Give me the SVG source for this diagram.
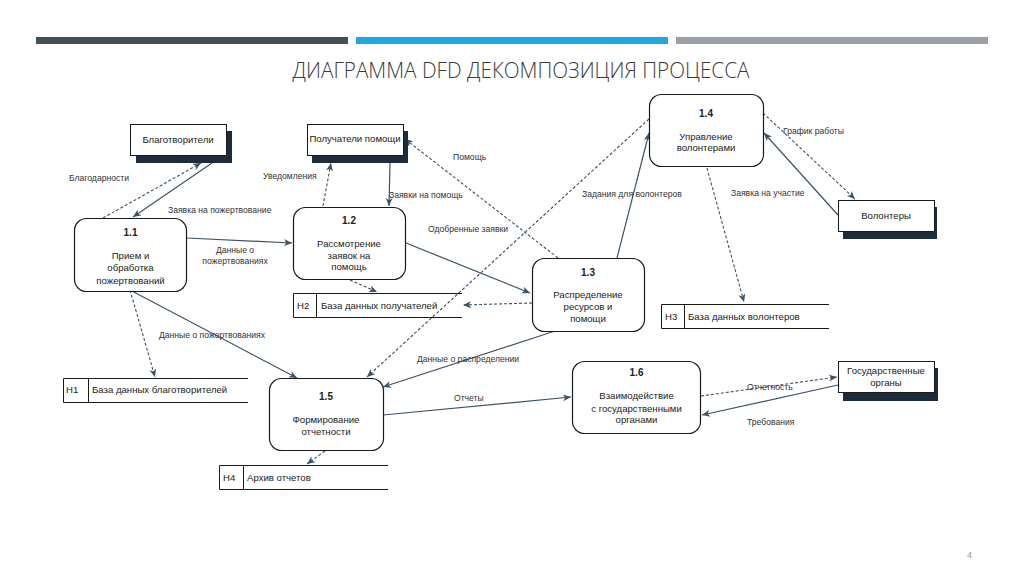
<svg xmlns="http://www.w3.org/2000/svg" width="1024" height="574" viewBox="0 0 1024 574">
<style>
.t{font-family:"Liberation Sans",Arial,sans-serif;fill:#222}
.lbl{font-family:"Liberation Sans",Arial,sans-serif;font-size:8.6px;fill:#333}
.pn{font-size:9.6px;text-anchor:middle}
.pid{font-size:10px;font-weight:bold;text-anchor:middle}
.ent{font-size:9.6px;text-anchor:middle}
.st{font-size:9.6px}
.box{fill:#fff;stroke:#1a1a1a;stroke-width:1}
.sh{fill:#1d2b3a}
.proc{fill:#fff;stroke:#1a1a1a;stroke-width:1.2}
.sl{stroke:#1a1a1a;stroke-width:1;fill:none}
.s{stroke:#3d5266;stroke-width:1.2;fill:none;marker-end:url(#a)}
.d{stroke:#3d5266;stroke-width:1.1;fill:none;stroke-dasharray:3 2;marker-end:url(#a)}
</style>
<defs>
<marker id="a" markerUnits="userSpaceOnUse" markerWidth="10" markerHeight="8" refX="8" refY="3.5" orient="auto">
<path d="M0,0 L8,3.5 L0,7 L2.2,3.5 z" fill="#3d5266"/>
</marker>
</defs>
<rect width="1024" height="574" fill="#fff"/>
<g id="header">
<rect x="36" y="37" width="312" height="7" fill="#434f57"/>
<rect x="356" y="37" width="312" height="7" fill="#1ea8df"/>
<rect x="676" y="37" width="312" height="7" fill="#9aa0a6"/>
<text x="521" y="78" text-anchor="middle" font-family="'Open Sans','Liberation Sans',sans-serif" font-size="22" font-weight="300" fill="#3a3a3a" textLength="457" lengthAdjust="spacingAndGlyphs">ДИАГРАММА DFD ДЕКОМПОЗИЦИЯ ПРОЦЕССА</text>
</g>
<g id="connectors">
<path class="s" d="M212,163 L133,217"/>
<path class="d" d="M103,218 L201,163"/>
<path class="s" d="M187,238 L292,243"/>
<path class="s" d="M390,163 L389,206"/>
<path class="d" d="M323,206 L331,163"/>
<path class="d" d="M558,258 L405,139"/>
<path class="s" d="M406,243 L530,293"/>
<path class="d" d="M350,280 L377,292"/>
<path class="d" d="M532,303 L463,305"/>
<path class="d" d="M649,119 L367,377"/>
<path class="s" d="M617,258 L649,133"/>
<path class="d" d="M707,168 L744,302"/>
<path class="s" d="M838,215 L764,133"/>
<path class="d" d="M763,113 L855,199"/>
<path class="d" d="M130,290 L155,377"/>
<path class="s" d="M130,290 L297,378"/>
<path class="s" d="M555,331 L383,387"/>
<path class="s" d="M383,415 L571,397"/>
<path class="d" d="M325,451 L307,464"/>
<path class="d" d="M701,396 L837,377"/>
<path class="s" d="M838,385 L702,415"/>
<text class="lbl" x="69" y="181">Благодарности</text>
<text class="lbl" x="168" y="213">Заявка на пожертвование</text>
<text class="lbl" x="263" y="179">Уведомления</text>
<text class="lbl" x="389" y="198">Заявки на помощь</text>
<text class="lbl" x="453" y="160">Помощь</text>
<text class="lbl" x="235" y="253" text-anchor="middle">Данные о</text>
<text class="lbl" x="235" y="264" text-anchor="middle">пожертвованиях</text>
<text class="lbl" x="428" y="232">Одобренные заявки</text>
<text class="lbl" x="582" y="197">Задания для волонтеров</text>
<text class="lbl" x="731" y="196">Заявка на участие</text>
<text class="lbl" x="783" y="134">График работы</text>
<text class="lbl" x="159" y="338">Данные о пожертвованиях</text>
<text class="lbl" x="417" y="362">Данные о распределении</text>
<text class="lbl" x="454" y="401">Отчеты</text>
<text class="lbl" x="747" y="390">Отчетность</text>
<text class="lbl" x="747" y="425">Требования</text>
</g>
<g id="e_blag">
<rect class="sh" x="136" y="131" width="96" height="32"/>
<rect class="box" x="130.5" y="124.5" width="96" height="31"/>
<text class="t ent" x="178" y="143">Благотворители</text>
</g>
<g id="e_pol">
<rect class="sh" x="312" y="131" width="96" height="32"/>
<rect class="box" x="307.5" y="124.5" width="96" height="31"/>
<text class="t ent" x="355" y="142">Получатели помощи</text>
</g>
<g id="e_vol">
<rect class="sh" x="843" y="207" width="94" height="32"/>
<rect class="box" x="838.5" y="200.5" width="96" height="31"/>
<text class="t ent" x="886" y="219">Волонтеры</text>
</g>
<g id="e_gos">
<rect class="sh" x="843" y="368" width="95" height="33"/>
<rect class="box" x="838.5" y="361.5" width="96" height="31"/>
<text class="t ent" x="886" y="374">Государственные</text>
<text class="t ent" x="886" y="386">органы</text>
</g>
<g id="p11">
<rect class="proc" x="74.5" y="218.5" width="112" height="73" rx="12"/>
<text class="t pid" x="130.5" y="235.5">1.1</text>
<text class="t pn" x="130.5" y="258.5">Прием и</text>
<text class="t pn" x="130.5" y="271">обработка</text>
<text class="t pn" x="130.5" y="283.5">пожертвований</text>
</g>
<g id="p12">
<rect class="proc" x="293.5" y="207.5" width="112" height="72" rx="12"/>
<text class="t pid" x="349" y="223.5">1.2</text>
<text class="t pn" x="349" y="246.5">Рассмотрение</text>
<text class="t pn" x="349" y="258.5">заявок на</text>
<text class="t pn" x="349" y="270">помощь</text>
</g>
<g id="p13">
<rect class="proc" x="532.5" y="258.5" width="112" height="73" rx="12"/>
<text class="t pid" x="588" y="275.5">1.3</text>
<text class="t pn" x="588" y="297.5">Распределение</text>
<text class="t pn" x="588" y="309.5">ресурсов и</text>
<text class="t pn" x="588" y="321.5">помощи</text>
</g>
<g id="p14">
<rect class="proc" x="649.5" y="94.5" width="114" height="72" rx="12"/>
<text class="t pid" x="706" y="116.5">1.4</text>
<text class="t pn" x="706" y="140">Управление</text>
<text class="t pn" x="706" y="150.5">волонтерами</text>
</g>
<g id="p15">
<rect class="proc" x="269.5" y="378.5" width="114" height="72" rx="12"/>
<text class="t pid" x="326" y="400">1.5</text>
<text class="t pn" x="326" y="423">Формирование</text>
<text class="t pn" x="326" y="435">отчетности</text>
</g>
<g id="p16">
<rect class="proc" x="572.5" y="361.5" width="128" height="72" rx="12"/>
<text class="t pid" x="636.5" y="376">1.6</text>
<text class="t pn" x="636.5" y="399">Взаимодействие</text>
<text class="t pn" x="636.5" y="412">с государственными</text>
<text class="t pn" x="636.5" y="423">органами</text>
</g>
<g id="h1">
<path class="sl" d="M248,378.5 H63.5 V402.5 H248 M88.5,378.5 V402.5"/>
<text class="t st" x="66" y="393">Н1</text>
<text class="t st" x="92" y="393">База данных благотворителей</text>
</g>
<g id="h2">
<path class="sl" d="M462,293.5 H293.5 V317.5 H462 M316.5,293.5 V317.5"/>
<text class="t st" x="297" y="309">Н2</text>
<text class="t st" x="321" y="309">База данных получателей</text>
</g>
<g id="h3">
<path class="sl" d="M829,304.5 H661.5 V328.5 H829 M684.5,304.5 V328.5"/>
<text class="t st" x="665" y="320">Н3</text>
<text class="t st" x="688" y="320">База данных волонтеров</text>
</g>
<g id="h4">
<path class="sl" d="M388,465.5 H219.5 V489.5 H388 M243.5,465.5 V489.5"/>
<text class="t st" x="223" y="481">Н4</text>
<text class="t st" x="247" y="481">Архив отчетов</text>
</g>
<text x="967" y="558" font-family="'Liberation Sans',sans-serif" font-size="9" fill="#999">4</text>
</svg>
